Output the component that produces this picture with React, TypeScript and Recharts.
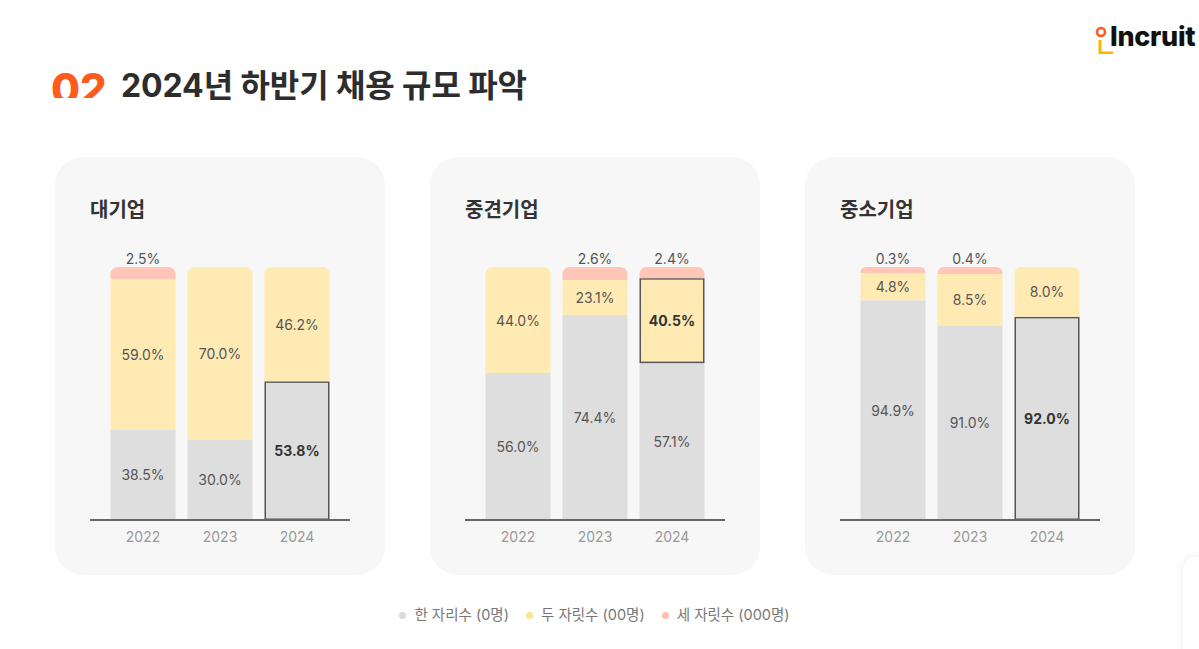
import React from "react";
import { BarChart, Bar, XAxis, YAxis, LabelList } from "recharts";

const YEARS = ["2022", "2023", "2024"];

// printed percentages (labels)
const largeOneLabel = [38.5, 30.0, 53.8];
const largeTwoLabel = [59.0, 70.0, 46.2];
const largeThreeLabel = [2.5, 0, 0];
const midOneLabel = [56.0, 74.4, 57.1];
const midTwoLabel = [44.0, 23.1, 40.5];
const midThreeLabel = [0, 2.6, 2.4];
const smallOneLabel = [94.9, 91.0, 92.0];
const smallTwoLabel = [4.8, 8.5, 8.0];
const smallThreeLabel = [0.3, 0.4, 0];

// drawn segment shares (small shares are drawn larger)
const largeOneBar = [35.7, 31.7, 54.8];
const largeTwoBar = [59.5, 68.3, 45.2];
const largeThreeBar = [4.8, 0, 0];
const midOneBar = [58.1, 81.0, 62.0];
const midTwoBar = [41.9, 13.9, 33.6];
const midThreeBar = [0, 5.1, 4.4];
const smallOneBar = [86.9, 77.0, 80.3];
const smallTwoBar = [10.7, 20.2, 19.7];
const smallThreeBar = [2.4, 2.8, 0];

const SERIES_NAMES = ["한 자리수 (0명)", "두 자릿수 (00명)", "세 자릿수 (000명)"];

const C_ONE = "#dedede";
const C_TWO = "#ffeab4";
const C_THREE = "#ffc6b8";
const DOT = ["#d9d9d9", "#ffe493", "#ffbfae"];

const FONT = 'Inter, "Noto Sans CJK KR", sans-serif';

type Row = {
  year: string;
  one: number;
  two: number;
  three: number;
  oneL: number;
  twoL: number;
  threeL: number;
};

const buildRows = (a: number[], b: number[], c: number[], la: number[], lb: number[], lc: number[]): Row[] =>
  YEARS.map((y, i) => ({ year: y, one: a[i], two: b[i], three: c[i], oneL: la[i], twoL: lb[i], threeL: lc[i] }));

const PANELS = [
  {
    title: "대기업",
    rows: buildRows(largeOneBar, largeTwoBar, largeThreeBar, largeOneLabel, largeTwoLabel, largeThreeLabel),
    hlYear: "2024",
    hlKey: "one",
  },
  {
    title: "중견기업",
    rows: buildRows(midOneBar, midTwoBar, midThreeBar, midOneLabel, midTwoLabel, midThreeLabel),
    hlYear: "2024",
    hlKey: "two",
  },
  {
    title: "중소기업",
    rows: buildRows(smallOneBar, smallTwoBar, smallThreeBar, smallOneLabel, smallTwoLabel, smallThreeLabel),
    hlYear: "2024",
    hlKey: "one",
  },
];

const isTopSeg = (key: string, row: Row) =>
  key === "three" ||
  (key === "two" && !row.three) ||
  (key === "one" && !row.two && !row.three);

function makeShape(key: string, fill: string, hlYear: string, hlKey: string) {
  return (props: any) => {
    const { x, y, width, height, payload } = props;
    if (!height || height <= 0) return <g />;
    const hl = payload.year === hlYear && key === hlKey;
    if (hl) {
      return (
        <rect
          x={x + 0.75}
          y={y + 0.75}
          width={width - 1.5}
          height={height - 1.5}
          fill={fill}
          stroke="#555"
          strokeWidth={1.5}
        />
      );
    }
    const r = isTopSeg(key, payload) ? Math.min(8, height) : 0;
    const d = `M${x},${y + height} L${x},${y + r} Q${x},${y} ${x + r},${y} L${x + width - r},${y} Q${x + width},${y} ${x + width},${y + r} L${x + width},${y + height} Z`;
    return <path d={d} fill={fill} />;
  };
}

function makeLabel(key: "one" | "two" | "three", rows: Row[], hlYear: string, hlKey: string, top: boolean) {
  return (props: any) => {
    const { x, y, width, height, index } = props;
    const row = rows[index];
    if (!row) return null;
    const value = row[(key + "L") as "oneL"];
    if (!value) return null;
    const bold = row.year === hlYear && key === hlKey;
    const cx = x + width / 2;
    const cy = top ? y - 9 : y + height / 2;
    return (
      <text
        x={cx}
        y={cy}
        textAnchor="middle"
        dominantBaseline="central"
        fontSize={14}
        fontFamily={FONT}
        fontWeight={bold ? 700 : 400}
        fill={bold ? "#333" : "#555"}
      >
        {value.toFixed(1)}%
      </text>
    );
  };
}

function Panel({ p, left }: { p: (typeof PANELS)[number]; left: number }) {
  return (
    <div
      style={{
        position: "absolute",
        left,
        top: 157,
        width: 330,
        height: 418,
        borderRadius: 28,
        background: "#f7f7f7",
      }}
    >
      <div
        style={{
          position: "absolute",
          left: 35,
          top: 39,
          fontSize: 20,
          fontWeight: 700,
          color: "#333",
          fontFamily: FONT,
          lineHeight: "28px",
        }}
      >
        {p.title}
      </div>
      <div style={{ position: "absolute", left: 35, top: 83 }}>
        <BarChart
          width={260}
          height={320}
          data={p.rows}
          margin={{ top: 27, right: 0, left: 0, bottom: 0 }}
          barCategoryGap={12}
        >
          <XAxis
            dataKey="year"
            axisLine={{ stroke: "#666", strokeWidth: 2 }}
            tickLine={false}
            tickSize={0}
            tickMargin={12}
            height={40}
            padding={{ left: 14.5, right: 14.5 }}
            tick={{ fill: "#999", fontSize: 14, fontFamily: FONT }}
          />
          <YAxis hide domain={[0, 100]} allowDataOverflow />
          <Bar
            dataKey="one"
            stackId="s"
            fill={C_ONE}
            barSize={65}
            isAnimationActive={false}
            shape={makeShape("one", C_ONE, p.hlYear, p.hlKey)}
          >
            <LabelList dataKey="one" content={makeLabel("one", p.rows, p.hlYear, p.hlKey, false)} />
          </Bar>
          <Bar
            dataKey="two"
            stackId="s"
            fill={C_TWO}
            barSize={65}
            isAnimationActive={false}
            shape={makeShape("two", C_TWO, p.hlYear, p.hlKey)}
          >
            <LabelList dataKey="two" content={makeLabel("two", p.rows, p.hlYear, p.hlKey, false)} />
          </Bar>
          <Bar
            dataKey="three"
            stackId="s"
            fill={C_THREE}
            barSize={65}
            isAnimationActive={false}
            shape={makeShape("three", C_THREE, p.hlYear, p.hlKey)}
          >
            <LabelList dataKey="three" content={makeLabel("three", p.rows, p.hlYear, p.hlKey, true)} />
          </Bar>
        </BarChart>
      </div>
    </div>
  );
}

export default function App() {
  return (
    <div
      style={{
        position: "fixed",
        left: 0,
        top: 0,
        width: 1199,
        height: 649,
        background: "#fff",
        overflow: "hidden",
        fontFamily: FONT,
      }}
    >
      {/* section number, cut at the bottom like the source */}
      <div style={{ position: "absolute", left: 51, top: 62, height: 36, overflow: "hidden" }}>
        <div style={{ fontSize: 42, fontWeight: 800, color: "#ff5b1c", lineHeight: "54px", fontFamily: FONT }}>
          02
        </div>
      </div>
      <div
        style={{
          position: "absolute",
          left: 121,
          top: 66,
          fontSize: 32,
          fontWeight: 700,
          color: "#2d2d2d",
          lineHeight: "40px",
          letterSpacing: -0.1,
        }}
      >
        2024년 하반기 채용 규모 파악
      </div>

      {/* logo */}
      <svg width={20} height={30} style={{ position: "absolute", left: 1093, top: 24 }}>
        <circle cx={8} cy={8} r={4} fill="none" stroke="#ff5b1c" strokeWidth={2.6} />
        <path d="M7,16 L7,29 L20,29" fill="none" stroke="#ffb400" strokeWidth={3} />
      </svg>
      <div
        style={{
          position: "absolute",
          left: 1110,
          top: 20,
          fontSize: 27,
          fontWeight: 800,
          color: "#111",
          lineHeight: "34px",
          letterSpacing: -0.3,
        }}
      >
        Incruit
      </div>

      {PANELS.map((p, i) => (
        <Panel key={p.title} p={p} left={55 + i * 375} />
      ))}

      {/* legend */}
      <div
        style={{
          position: "absolute",
          left: 0,
          width: 1189,
          top: 604,
          display: "flex",
          justifyContent: "center",
          gap: 17,
          fontSize: 14.5,
          color: "#777",
          lineHeight: "22px",
        }}
      >
        {SERIES_NAMES.map((n, i) => (
          <div key={n} style={{ display: "flex", alignItems: "center" }}>
            <span
              style={{
                display: "inline-block",
                width: 7,
                height: 7,
                borderRadius: 4,
                background: DOT[i],
                marginRight: 8,
              }}
            />
            {n}
          </div>
        ))}
      </div>

      {/* card peeking in at the corner */}
      <div
        style={{
          position: "absolute",
          left: 1183,
          top: 557,
          width: 60,
          height: 140,
          borderRadius: 12,
          background: "#fff",
          boxShadow: "0 0 8px rgba(0,0,0,0.08)",
        }}
      />
    </div>
  );
}
